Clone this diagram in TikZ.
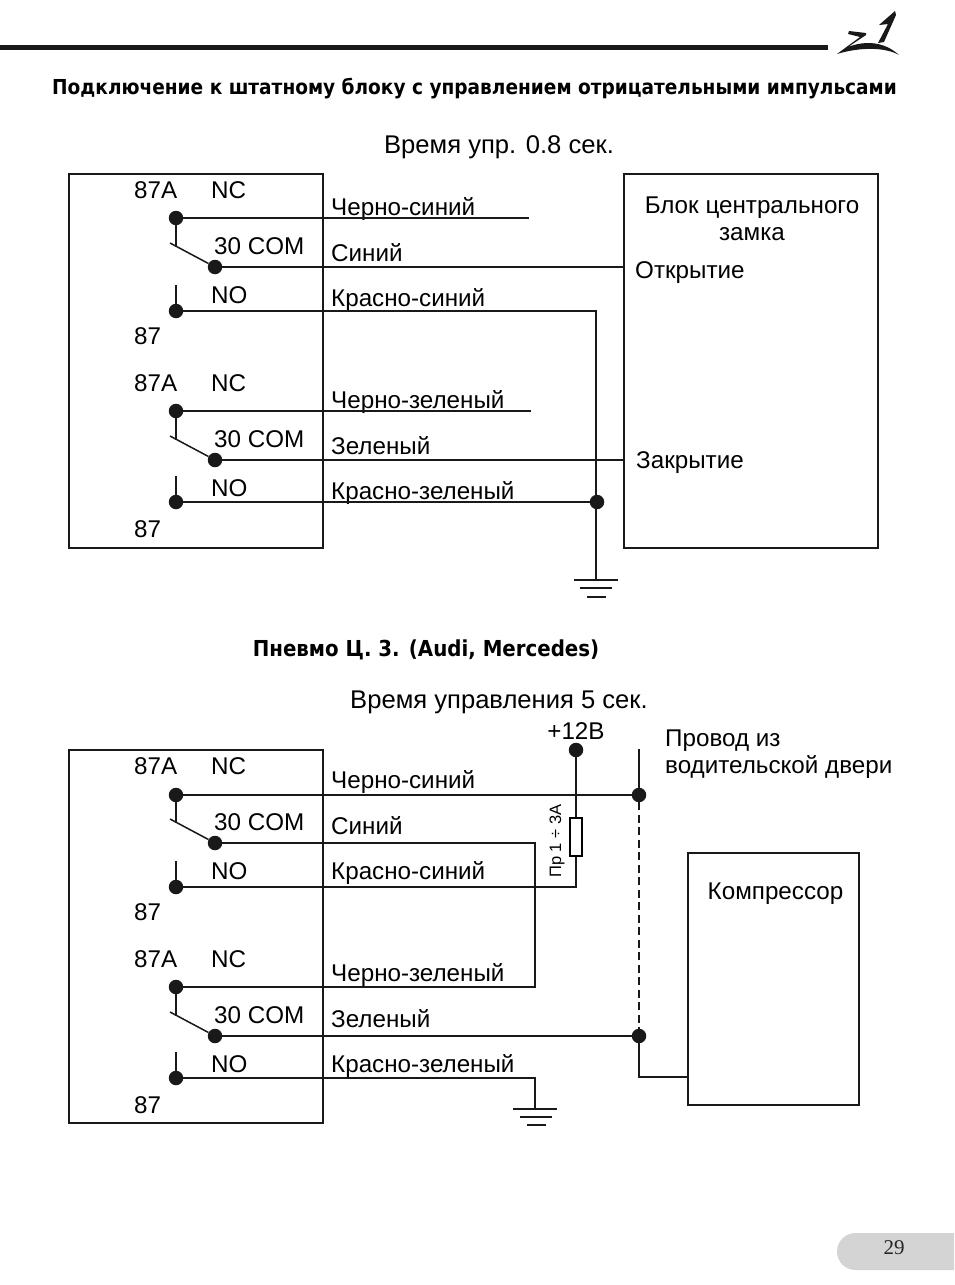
\documentclass[tikz,border=0pt]{standalone}
\usepackage{fontspec}
\setmainfont{Liberation Sans}
\newfontfamily\headfont[FakeStretch=0.9]{DejaVu Sans}
\newfontfamily\pagefont{Liberation Serif}
\tikzset{
  lbl/.style={inner sep=0pt,anchor=base west,font=\fontsize{24.2}{28}\selectfont},
  captxt/.style={inner sep=0pt,anchor=base,font=\fontsize{25.6}{28}\selectfont},
  wire/.style={line width=1.9pt,black!90},
  thinw/.style={line width=1.5pt,black!90},
  frame/.style={draw,line width=2.1pt,black!90,inner sep=0pt},
  dot/.style={circle,fill=black!90,inner sep=0pt,minimum size=14.5pt},
  gnd/.style={line width=1.8pt,black!90}
}
\begin{document}
\begin{tikzpicture}[x=1pt,y=-1pt]
\useasboundingbox (0,0) rectangle (954,1285);
% header
\draw [line width=5pt,black!90] (0,47) -- (828,47);
\fill [black!90] (849,31) -- (866,33) -- (866,35) -- (848,47) .. controls (866,40) and (885,42) .. (899,55) .. controls (885,47) and (860,47) .. (837,54) -- (860,37) -- (848,34) -- cycle;
\fill [black!90] (879,25) -- (895,11) -- (896,15) -- (884,42) -- (878,43) -- (888,24) -- cycle;
\node [inner sep=0pt,anchor=base west,font=\headfont\bfseries\fontsize{20.6}{24}\selectfont] (title) at (52,94) {Подключение к штатному блоку с управлением отрицательными импульсами};
\node [captxt] (time1) at (499,153) {Время упр. 0.8 сек.};
\node [inner sep=0pt,anchor=base,font=\headfont\bfseries\fontsize{22}{24}\selectfont] (title2) at (426,656) {Пневмо Ц. 3. (Audi, Mercedes)};
\node [captxt] (time2) at (499,708) {Время управления 5 сек.};
% relay boxes
\node [frame,minimum width=254pt,minimum height=374pt] (rel1) at (196,361) {};
\node [frame,minimum width=254pt,minimum height=373pt] (rel2) at (196,936.5) {};
\node [frame,minimum width=254pt,minimum height=374pt] (lock) at (751,361) {};
\node [frame,minimum width=171pt,minimum height=252pt] (comp) at (773.5,979) {};
% relay contacts
\foreach \n/\y/\l/\p/\q/\r/\u/\v/\w in {a/0/0/218/267/311/Черно-синий/Синий/Красно-синий,b/193/193/411/460/502/Черно-зеленый/Зеленый/Красно-зеленый,c/576/573.5/795/843/887/Черно-синий/Синий/Красно-синий,d/769/766/987/1036/1078/Черно-зеленый/Зеленый/Красно-зеленый} {
  \node [dot] (nc\n) at (176,\p) {};
  \node [dot] (com\n) at (215,\q) {};
  \node [dot] (no\n) at (176,\r) {};
  \coordinate (arm\n) at (176,\q-20);
  \coordinate (lev\n) at (170,\q-24);
  \coordinate (stub\n) at (176,\r-26);
  \draw [thinw] (nc\n) -- (arm\n);
  \draw [thinw] (lev\n) -- (com\n);
  \draw [thinw] (stub\n) -- (no\n);
  \node [lbl] (ta\n) at (134,198.2+\y) {87A};
  \node [lbl] (tc\n) at (211,198.2+\y) {NC};
  \node [lbl] (tm\n) at (214,254+\y) {30 COM};
  \node [lbl] (to\n) at (211,303.2+\y) {NO};
  \node [lbl] (tn\n) at (134,344.5+\y) {87};
  \node [lbl] (wa\n) at (331,215+\l) {\u};
  \node [lbl] (wb\n) at (331,261+\l) {\v};
  \node [lbl] (wc\n) at (331,306+\l) {\w};
}
% upper scheme
\node [lbl,anchor=base] (tlock) at (752,213) {Блок центрального};
\node [lbl,anchor=base] (tlock2) at (752,240) {замка};
\node [lbl] (topen) at (635,278) {Открытие};
\node [lbl] (tclose) at (636,468) {Закрытие};
\node [dot] (j1) at (597,502) {};
\coordinate (enda) at (529,218);
\coordinate (endb) at (531,411);
\coordinate (g1) at (596,580);
\draw [wire] (nca) -- (enda);
\draw [wire] (ncb) -- (endb);
\draw [wire] (coma) -- (coma -| lock.west);
\draw [wire] (comb) -- (comb -| lock.west);
\draw [wire] (noa) -- (596,311) -- (g1);
\draw [wire] (nob) -- (j1);
\draw [gnd] (574,580) -- (618,580);
\draw [gnd] (580,588) -- (612,588);
\draw [gnd] (587,597) -- (606,597);
% lower scheme
\node [lbl,anchor=base] (tplus) at (576,739) {+12В};
\node [lbl] (tdoor) at (665,746) {Провод из};
\node [lbl] (tdoor2) at (665,773) {водительской двери};
\node [lbl,anchor=base] (tcomp) at (775.5,899) {Компрессор};
\node [dot] (plus) at (576,750) {};
\node [dot] (j2) at (639,795) {};
\node [dot] (j3) at (639,1036) {};
\node [draw,fill=white,line width=1.2pt,minimum width=12pt,minimum height=38pt,inner sep=0pt] (fuse) at (576,837) {};
\node [inner sep=0pt,rotate=90,font=\fontsize{16.5}{20}\selectfont] (tfuse) at (557,841) {Пр 1 ÷ 3А};
\coordinate (top) at (639,749);
\coordinate (k1) at (576,887);
\coordinate (k2) at (535,843);
\coordinate (k3) at (535,987);
\coordinate (k4) at (639,1077);
\coordinate (k5) at (535,1078);
\coordinate (g2) at (535,1109);
\draw [wire] (top) -- (j2);
\draw [wire] (ncc) -- (j2);
\draw [wire,dash pattern=on 8pt off 4.5pt] (j2) -- (j3);
\draw [wire] (plus) -- (fuse.north);
\draw [wire] (fuse.south) -- (k1) -- (noc);
\draw [wire] (comc) -- (k2) -- (k3) -- (ncd);
\draw [wire] (comd) -- (j3);
\draw [wire] (j3) -- (k4) -- (k4 -| comp.west);
\draw [wire] (nod) -- (k5) -- (g2);
\draw [gnd] (513,1109) -- (557,1109);
\draw [gnd] (520,1117) -- (552,1117);
\draw [gnd] (527,1125) -- (546,1125);
% page tab
\fill [black!17] (954,1233) -- (855.5,1233) arc [start angle=270,end angle=90,radius=18.5] -- (954,1270) -- cycle;
\node [inner sep=0pt,anchor=base,font=\pagefont\fontsize{21}{24}\selectfont,black!85] (page) at (894,1254) {29};
\end{tikzpicture}
\end{document}
